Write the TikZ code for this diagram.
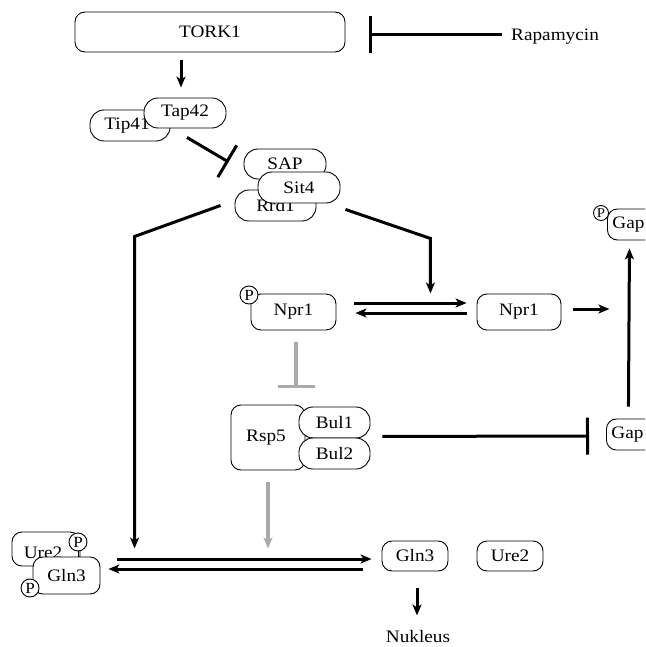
\documentclass[tikz,border=0pt]{standalone}
\usepackage{fontspec}
\setmainfont{Liberation Serif}[FakeStretch=1.1]
\usetikzlibrary{arrows.meta}
\definecolor{inhgrey}{RGB}{170,170,170}
\newcommand{\lbl}{\fontsize{17.5}{20}\selectfont}
\begin{document}
\begin{tikzpicture}[x=1pt,y=-1pt,
  box/.style={draw, line width=0.9pt, fill=white, rounded corners=10pt, inner sep=0pt, font=\lbl},
  pill/.style={box, rounded corners=14pt},
  edgebox/.style={box, text width=44pt, align=left, inner xsep=5pt, minimum height=31pt},
  phos/.style={draw, circle, line width=0.9pt, fill=white, inner sep=0pt, minimum size=18pt, font=\fontsize{15.5}{15.5}\selectfont},
  phossmall/.style={phos, minimum size=15pt, font=\fontsize{13.5}{13.5}\selectfont},
  lab/.style={inner sep=0pt, font=\lbl},
  arr/.style={line width=3pt, -{Stealth[length=11pt,width=9pt,inset=3pt]}},
  inh/.style={line width=3pt, -{Bar[width=37pt]}},
  ginh/.style={inh, draw=inhgrey, line width=3.5pt},
  garr/.style={arr, draw=inhgrey, line width=3.5pt}]
\useasboundingbox (0,0) rectangle (645,647);
\clip (0,0) rectangle (645,647);

% TOR kinase and rapamycin
\node[box, minimum width=270pt, minimum height=40pt] (tork) at (210,32) {TORK1};
\node[lab, anchor=west] (rapa) at (511,37) {Rapamycin};

% Tap42 / Tip41 complex
\node[pill, minimum width=80pt, minimum height=31pt] (tip41) at (130,125.5) {\hspace*{-6pt}Tip41};
\node[pill, minimum width=82pt, minimum height=30pt] (tap42) at (185,113) {Tap42};

% SAP / Sit4 / Rrd1 phosphatase complex
\node[pill, minimum width=82pt, minimum height=30pt] (sap) at (285,164) {SAP};
\node[pill, minimum width=81pt, minimum height=31pt] (rrd1) at (275.5,205.5) {Rrd1};
\node[pill, minimum width=82pt, minimum height=31pt] (sit4) at (299,187.5) {Sit4};

% Npr1, phosphorylated and free
\node[box, minimum width=85pt, minimum height=36pt] (nprP) at (293.5,312) {Npr1};
\node[phos] (pNpr) at (249,295) {P};
\node[box, minimum width=84pt, minimum height=36pt] (npr) at (519,312) {Npr1};

% Gap1 permease
\node[edgebox, anchor=west] (gapTop) at (607,224.5) {Gap};
\node[phossmall] (pGap) at (601,213) {P};
\node[edgebox, anchor=west] (gapLow) at (606,434.5) {Gap};

% Rsp5 with Bul1 / Bul2
\node[box, minimum width=74pt, minimum height=65pt] (rsp5) at (268,437.5) {\hspace*{-4pt}Rsp5};
\node[pill, minimum width=71pt, minimum height=31pt] (bul1) at (334.5,422.5) {Bul1};
\node[pill, minimum width=71pt, minimum height=31pt] (bul2) at (334.5,453.5) {Bul2};

% Ure2 / Gln3 complex (cytoplasm); the Ure2 label sits low, half under Gln3
\node[box, minimum width=68pt, minimum height=34pt] (ure2L) at (46,549) {};
\node[lab] (ure2Ltxt) at (43,553) {Ure2};
\node[box, minimum width=67pt, minimum height=37pt] (gln3L) at (66.5,575.5) {Gln3};
\node[phos] (pUre) at (78,542) {P};
\node[phos] (pGln) at (30,588) {P};
\draw[line width=0.9pt] (pUre.south) -- (pUre.south |- gln3L.north);

% released Gln3 and Ure2
\node[box, minimum width=66pt, minimum height=30pt] (gln3R) at (415,556) {Gln3};
\node[box, minimum width=66pt, minimum height=30pt] (ure2R) at (510,556) {Ure2};
\node[lab] (nuk) at (418,637) {Nukleus};

% connectors
\draw[inh] ([xshift=-9,yshift=2]rapa.west) -- ([xshift=24,yshift=-3]tork.east);
\draw[arr] ([xshift=-4,yshift=-8]tork.south -| tap42.north) -- ([xshift=-4,yshift=10]tap42.north);
\draw[inh] ([xshift=2,yshift=-9]tap42.south) -- ([xshift=-15,yshift=2]sap.west);

\draw[arr, line join=miter] ([xshift=-14]rrd1.west) -- ++(-86,31) -- ++(0,312);
\draw[arr, line join=miter] ([xshift=5,yshift=-6]sit4.south east) -- ++(85,29) -- ++(0,55);

\draw[arr] ([xshift=18,yshift=9]nprP.east) -- ([xshift=-10,yshift=9]npr.west);
\draw[arr] ([xshift=-10,yshift=-1]npr.west) -- ([xshift=19,yshift=-1]nprP.east);
\draw[arr] ([xshift=12,yshift=3]npr.east) -- ([xshift=48,yshift=3]npr.east);
\draw[arr] ([xshift=-5,yshift=12]gapLow.north) -- ([xshift=-5,yshift=-8]gapTop.south);

\draw[ginh] ([xshift=2.5,yshift=-12]nprP.south) -- ([xshift=2.5,yshift=-58]nprP.south);
\draw[inh] ([xshift=12,yshift=2]bul1.south east) -- ([xshift=-17,yshift=-1.5]gapLow.west);
\draw[garr] ([yshift=-12]rsp5.south) -- ([yshift=-78]rsp5.south);

\draw[arr] ([xshift=17,yshift=16.5]gln3L.east) -- ([xshift=-10,yshift=-3]gln3R.west);
\draw[arr] ([xshift=-19,yshift=-13]gln3R.west) -- ([xshift=8,yshift=6.5]gln3L.east);
\draw[arr] ([xshift=2,yshift=-17]gln3R.south) -- ([xshift=2,yshift=-44]gln3R.south);
\end{tikzpicture}
\end{document}
